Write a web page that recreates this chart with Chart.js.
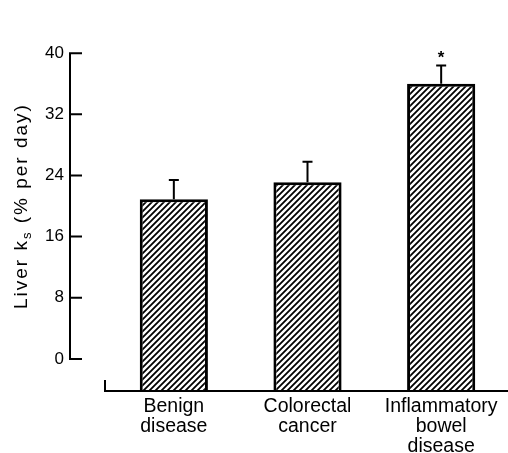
<!DOCTYPE html>
<html>
<head>
<meta charset="utf-8">
<script src="https://cdn.jsdelivr.net/npm/chart.js@4"></script>
<style>
  html, body { margin: 0; padding: 0; background: #fff; }
  #wrap { width: 508px; height: 453px; }
</style>
</head>
<body>
<div id="wrap"><canvas id="barChart"></canvas></div>
<script>
// ================= DATA =================
const categories = [["Benign", "disease"], ["Colorectal", "cancer"], ["Inflammatory", "bowel", "disease"]];
const ksMean = [20.9, 23.1, 36.0];
const ksSem = [2.5, 2.7, 2.4];
const significant = [false, false, true];
const yTicks = [0, 8, 16, 24, 32, 40];
const yMin = -4.2;
const yMax = 40;

const FONT = "'Liberation Sans', Arial, Helvetica, sans-serif";

// diagonal hatch fill (///)
function makeHatch(ctx) {
  const c = document.createElement("canvas");
  c.width = 6; c.height = 6;
  const g = c.getContext("2d");
  g.fillStyle = "#fff";
  g.fillRect(0, 0, 6, 6);
  g.strokeStyle = "#000";
  g.lineWidth = 1.8;
  g.beginPath();
  g.moveTo(-1, 7); g.lineTo(7, -1);
  g.moveTo(-1, 1); g.lineTo(1, -1);
  g.moveTo(5, 7); g.lineTo(7, 5);
  g.stroke();
  return ctx.createPattern(c, "repeat");
}

// ================= AXES + ERROR BARS =================
const extras = {
  id: "extras",
  afterDatasetsDraw(chart) {
    const { ctx, chartArea } = chart;
    const y = chart.scales.y;
    const meta = chart.getDatasetMeta(0);

    ctx.save();
    ctx.strokeStyle = "#000";
    ctx.fillStyle = "#000";
    ctx.lineWidth = 2;

    // error bars (upper only) + significance star
    meta.data.forEach((bar, i) => {
      const top = y.getPixelForValue(ksMean[i]);
      const cap = y.getPixelForValue(ksMean[i] + ksSem[i]);
      ctx.beginPath();
      ctx.moveTo(bar.x, top);
      ctx.lineTo(bar.x, cap);
      ctx.moveTo(bar.x - 5, cap);
      ctx.lineTo(bar.x + 5, cap);
      ctx.stroke();
      if (significant[i]) {
        ctx.font = "bold 17px " + FONT;
        ctx.textAlign = "center";
        ctx.textBaseline = "alphabetic";
        ctx.fillText("*", bar.x, cap - 2);
      }
    });

    // y axis line with inward ticks, detached from the plot
    const ax = chartArea.left - 37;
    const y0 = y.getPixelForValue(yTicks[0]);
    const y1 = y.getPixelForValue(yTicks[yTicks.length - 1]);
    ctx.beginPath();
    ctx.moveTo(ax, y1 - 1);
    ctx.lineTo(ax, y0 + 1);
    yTicks.forEach(v => {
      const py = y.getPixelForValue(v);
      ctx.moveTo(ax, py);
      ctx.lineTo(ax + 12, py);
    });
    ctx.stroke();

    // x axis line with small tick at the left end
    const bx = chartArea.left - 2;
    const by = chartArea.bottom;
    ctx.beginPath();
    ctx.moveTo(bx, by - 11);
    ctx.lineTo(bx, by);
    ctx.lineTo(chartArea.right, by);
    ctx.stroke();

    // y axis title with subscript
    ctx.translate(chartArea.left - 80, (y0 + y1) / 2);
    ctx.rotate(-Math.PI / 2);
    ctx.letterSpacing = "2px";
    ctx.textAlign = "left";
    ctx.textBaseline = "alphabetic";
    const parts = [
      ["Liver k", "19px " + FONT, 0],
      ["s", "13px " + FONT, 4],
      [" (% per day)", "19px " + FONT, 0]
    ];
    let total = 0;
    parts.forEach(p => { ctx.font = p[1]; total += ctx.measureText(p[0]).width; });
    let x = -total / 2;
    parts.forEach(p => {
      ctx.font = p[1];
      ctx.fillText(p[0], x, p[2]);
      x += ctx.measureText(p[0]).width;
    });
    ctx.restore();
  }
};

// ================= CHART =================
const canvas = document.getElementById("barChart");
const ctx = canvas.getContext("2d");

new Chart(ctx, {
  type: "bar",
  data: {
    labels: categories,
    datasets: [{
      data: ksMean,
      backgroundColor: makeHatch(ctx),
      borderColor: "#000",
      borderWidth: 3,
      borderSkipped: "bottom",
      base: yMin,
      categoryPercentage: 1,
      barPercentage: 0.51
    }]
  },
  options: {
    responsive: true,
    maintainAspectRatio: false,
    animation: false,
    layout: { padding: { top: 20, right: 0, bottom: 0, left: 0 } },
    plugins: {
      legend: { display: false },
      tooltip: { enabled: false }
    },
    scales: {
      x: {
        afterFit: s => { s.height = 62; },
        grid: { display: false, drawTicks: false },
        border: { display: false },
        ticks: {
          padding: 6,
          color: "#000",
          maxRotation: 0,
          autoSkip: false,
          font: { family: FONT, size: 19.5, lineHeight: 1.02 }
        }
      },
      y: {
        min: yMin,
        max: yMax,
        afterBuildTicks: s => { s.ticks = yTicks.map(v => ({ value: v })); },
        afterFit: s => { s.width = 107; },
        grid: { display: false, drawTicks: false },
        border: { display: false },
        ticks: {
          padding: 43,
          color: "#000",
          font: { family: FONT, size: 17 }
        }
      }
    }
  },
  plugins: [extras]
});
</script>
</body>
</html>
